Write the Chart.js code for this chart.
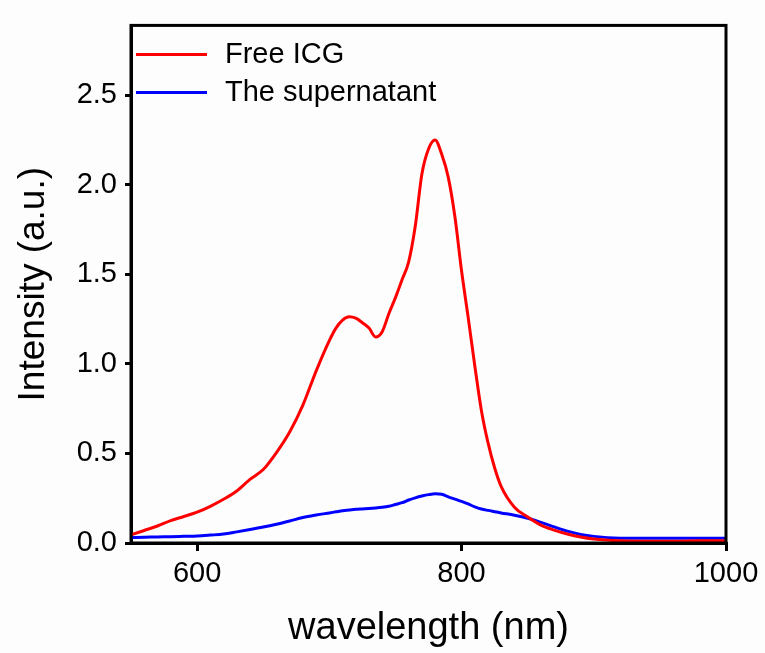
<!DOCTYPE html>
<html>
<head>
<meta charset="utf-8">
<title>ICG fluorescence</title>
<script src="https://cdn.jsdelivr.net/npm/chart.js@4.4.1/dist/chart.umd.min.js"></script>
<style>
  html, body { margin: 0; padding: 0; background: #fdfdfd; }
  #wrap { width: 765px; height: 653px; }
</style>
</head>
<body>
<div id="wrap"><canvas id="specChart" width="765" height="653"></canvas></div>
<script>
// wavelength (nm) sample points
const wavelengths = [550, 560, 570, 580, 590, 600, 610, 620, 630, 640, 650, 660, 670, 680, 690,
  700, 705, 710, 715, 720, 725, 730, 735, 740, 745, 750, 755, 760, 765, 770, 775, 780, 785,
  790, 795, 800, 805, 810, 815, 820, 825, 830, 840, 850, 860, 870, 880, 890, 900, 920, 940,
  960, 980, 1000];

const freeIcg = [0.045, 0.07, 0.095, 0.125, 0.148, 0.172, 0.205, 0.244, 0.29, 0.355, 0.41, 0.505,
  0.62, 0.77, 0.96, 1.13, 1.20, 1.245, 1.263, 1.255, 1.23, 1.20, 1.15, 1.18, 1.28, 1.37, 1.47,
  1.57, 1.77, 2.06, 2.20, 2.25, 2.17, 2.04, 1.82, 1.52, 1.26, 0.99, 0.74, 0.56, 0.42, 0.315,
  0.20, 0.145, 0.10, 0.072, 0.05, 0.033, 0.022, 0.012, 0.01, 0.01, 0.012, 0.012];

const supernatant = [0.031, 0.032, 0.034, 0.035, 0.037, 0.039, 0.044, 0.05, 0.062, 0.075, 0.089,
  0.105, 0.123, 0.142, 0.156, 0.168, 0.174, 0.18, 0.184, 0.188, 0.19, 0.192, 0.195, 0.199,
  0.205, 0.215, 0.225, 0.24, 0.252, 0.262, 0.27, 0.275, 0.272, 0.258, 0.245, 0.232, 0.218,
  0.202, 0.19, 0.182, 0.175, 0.168, 0.155, 0.138, 0.115, 0.09, 0.066, 0.048, 0.037, 0.027,
  0.026, 0.027, 0.026, 0.026];

const xTicks = [600, 800, 1000];
const yTicks = [0, 0.5, 1.0, 1.5, 2.0, 2.5];

const FONT = "'Liberation Sans', Arial, sans-serif";

const toPoints = ys => wavelengths.map((x, i) => ({ x, y: ys[i] }));

// ── frame + inset legend ─────────────────────────────────────────────
const framePlugin = {
  id: 'frame',
  afterDraw(chart) {
    const { ctx, chartArea: a } = chart;
    ctx.save();
    ctx.strokeStyle = '#000';
    ctx.lineWidth = 3;
    ctx.strokeRect(a.left, a.top, a.right - a.left, a.bottom - a.top);

    // legend, top-left inside the plot
    ctx.font = '29px ' + FONT;
    ctx.textBaseline = 'middle';
    chart.data.datasets.forEach((ds, i) => {
      const y = a.top + 29 + i * 38;
      ctx.strokeStyle = ds.borderColor;
      ctx.lineWidth = 3;
      ctx.beginPath();
      ctx.moveTo(a.left + 5, y);
      ctx.lineTo(a.left + 76, y);
      ctx.stroke();
      ctx.fillStyle = '#000';
      ctx.fillText(ds.label, a.left + 94, y + 1);
    });
    ctx.restore();
  }
};

const ctx = document.getElementById('specChart').getContext('2d');

new Chart(ctx, {
  type: 'line',
  data: {
    datasets: [
      {
        label: 'Free ICG',
        data: toPoints(freeIcg),
        borderColor: '#ff0000',
        borderWidth: 3,
        pointRadius: 0,
        cubicInterpolationMode: 'monotone'
      },
      {
        label: 'The supernatant',
        data: toPoints(supernatant),
        borderColor: '#0000ff',
        borderWidth: 3,
        pointRadius: 0,
        cubicInterpolationMode: 'monotone'
      }
    ]
  },
  options: {
    responsive: false,
    animation: false,
    layout: { padding: { left: 0, top: 13, right: 39, bottom: 0 } },
    plugins: {
      legend: { display: false },
      tooltip: { enabled: false }
    },
    scales: {
      x: {
        type: 'linear',
        min: 550,
        max: 1000,
        afterBuildTicks: s => { s.ticks = xTicks.map(v => ({ value: v })); },
        afterFit: s => { s.height = 110; },
        border: { display: true, color: '#000', width: 3 },
        grid: { drawOnChartArea: false, drawTicks: true, tickLength: 8, color: '#000', lineWidth: 3 },
        ticks: {
          color: '#000',
          padding: 6,
          maxRotation: 0,
          font: { family: FONT, size: 29 },
          callback: v => String(v)
        },
        title: {
          display: true,
          text: 'wavelength (nm)',
          color: '#000',
          font: { family: FONT, size: 38 },
          padding: { top: 0, bottom: 2 }
        }
      },
      y: {
        min: 0,
        max: 2.89,
        afterBuildTicks: s => { s.ticks = yTicks.map(v => ({ value: v })); },
        afterFit: s => { s.width = 131; },
        border: { display: true, color: '#000', width: 3 },
        grid: { drawOnChartArea: false, drawTicks: true, tickLength: 6, color: '#000', lineWidth: 3 },
        ticks: {
          color: '#000',
          padding: 8,
          font: { family: FONT, size: 29 },
          callback: v => v.toFixed(1)
        },
        title: {
          display: true,
          text: 'Intensity (a.u.)',
          color: '#000',
          font: { family: FONT, size: 37 },
          padding: { top: 12, bottom: 0 }
        }
      }
    }
  },
  plugins: [framePlugin]
});
</script>
</body>
</html>
